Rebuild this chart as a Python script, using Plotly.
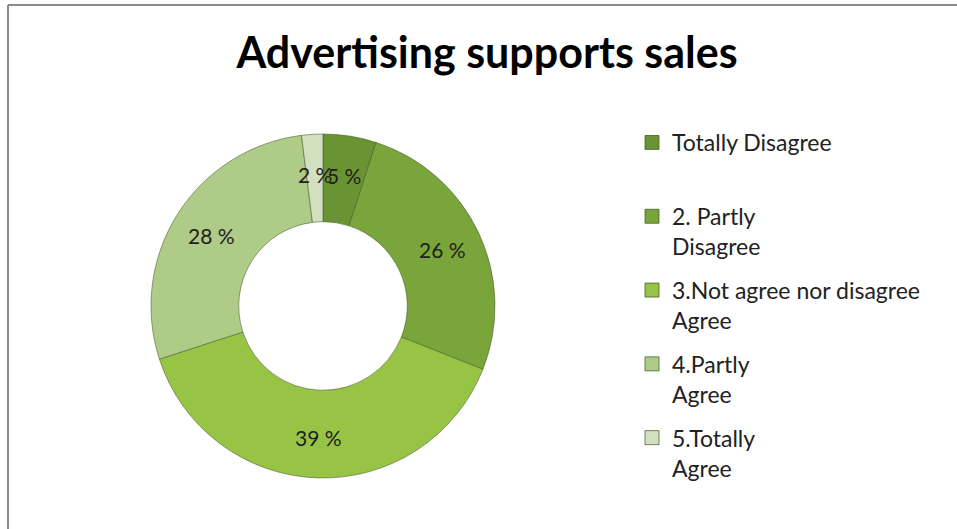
import math
import plotly.graph_objects as go

# Survey answers to "Advertising supports sales"
labels = [
    "Totally Disagree",
    "2. Partly<br>Disagree",
    "3.Not agree nor disagree<br>Agree",
    "4.Partly<br>Agree",
    "5.Totally<br>Agree",
]
values = [5, 26, 39, 28, 2]
colors = ["#6a9434", "#79a53a", "#97c445", "#aecb87", "#d3e0c0"]
title_text = "Advertising supports sales"

W, H = 957, 529
cx, cy, R = 323, 306, 172  # donut centre and outer radius in px
hole = 0.49

fig = go.Figure()

fig.add_trace(go.Pie(
    labels=labels,
    values=values,
    sort=False,
    direction="clockwise",
    rotation=0,
    hole=hole,
    marker=dict(colors=colors, line=dict(color="rgba(70,90,40,0.55)", width=1)),
    textinfo="none",
    showlegend=False,
    hoverinfo="label+percent",
    domain=dict(
        x=[(cx - R) / W, (cx + R) / W],
        y=[(H - cy - R) / H, (H - cy + R) / H],
    ),
))

# value labels sit on the middle of the ring, at each slice's mid-angle
total = sum(values)
r_mid = 0.5 * (R + hole * R) * 1.03
annotations = []
acc = 0
for v in values:
    theta = 2 * math.pi * (acc + v / 2) / total
    acc += v
    px = cx + r_mid * math.sin(theta)
    py = cy - r_mid * math.cos(theta)
    annotations.append(dict(
        x=px / W, y=1 - py / H, xref="paper", yref="paper",
        text=f"{v} %", showarrow=False,
        xanchor="center", yanchor="middle",
        font=dict(family="Lato", size=21, color="#1e1e1e"),
    ))

# legend entries, one group per answer so the group gap spaces them out
for i, (lab, col) in enumerate(zip(labels, colors)):
    name = lab if "<br>" in lab else lab + "<br> "
    fig.add_trace(go.Scatter(
        x=[None], y=[None], mode="markers", name=name,
        legendgroup=f"g{i}",
        marker=dict(symbol="square", size=14, color=col,
                    line=dict(color="rgba(60,80,30,0.7)", width=1)),
        hoverinfo="skip",
    ))

fig.update_layout(
    width=W, height=H,
    margin=dict(l=0, r=0, t=0, b=0),
    paper_bgcolor="white",
    plot_bgcolor="white",
    xaxis=dict(visible=False),
    yaxis=dict(visible=False),
    title=dict(
        text=f"<b>{title_text}</b>",
        x=487 / W, xanchor="center",
        y=1 - 53 / H, yanchor="middle",
        font=dict(family="Lato", size=43, color="#000000"),
    ),
    legend=dict(
        x=632 / W, xanchor="left",
        y=1 - 121 / H, yanchor="top",
        traceorder="grouped",
        tracegroupgap=11,
        valign="top",
        font=dict(family="Lato", size=23, color="#222222"),
        bgcolor="rgba(0,0,0,0)",
    ),
    annotations=annotations,
    shapes=[
        dict(type="line", xref="paper", yref="paper",
             x0=8 / W, x1=8 / W, y0=0, y1=1 - 5 / H,
             line=dict(color="#8a8a8a", width=2)),
        dict(type="line", xref="paper", yref="paper",
             x0=8 / W, x1=1, y0=1 - 5 / H, y1=1 - 5 / H,
             line=dict(color="#8a8a8a", width=2)),
    ],
)

fig.write_html("out.html")
